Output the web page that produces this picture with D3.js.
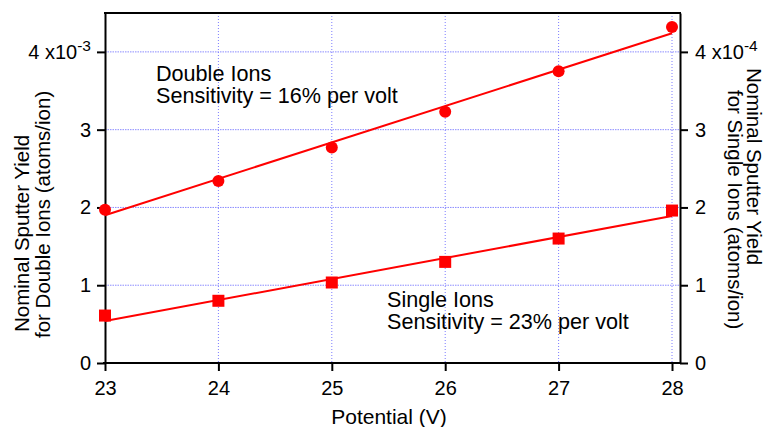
<!DOCTYPE html>
<meta charset="utf-8">
<title>Nominal Sputter Yield vs Potential</title>
<style>
  body { margin: 0; background: #fff; }
  text { font-family: "Liberation Sans", Arial, Helvetica, sans-serif; fill: #000; }
</style>
<body>
<script src="https://d3js.org/d3.v7.min.js"></script>
<script>

    // data
    var potential = [23, 24, 25, 26, 27, 28];
    var doubleYield = [1.97e-3, 2.34e-3, 2.77e-3, 3.23e-3, 3.75e-3, 4.32e-3];
    var singleYield = [0.61e-4, 0.80e-4, 1.035e-4, 1.30e-4, 1.60e-4, 1.96e-4];

    // fit lines, end points
    var fitPotential = [23, 28];
    var doubleFit = [1.90e-3, 4.24e-3];
    var singleFit = [0.54e-4, 1.89e-4];

    var xTicks = [23, 24, 25, 26, 27, 28];
    var leftTicks = [0, 1e-3, 2e-3, 3e-3, 4e-3];
    var rightTicks = [0, 1e-4, 2e-4, 3e-4, 4e-4];

    var width = 766,
        height = 427;

    var pLeft = 105, pRight = 680, pTop = 13, pBottom = 363;

    var x = d3.scaleLinear()
        .domain([23, 28.0705])
        .range([pLeft, pRight]);

    var yLeft = d3.scaleLinear()
        .domain([0, 4.5e-3])
        .range([pBottom, pTop]);

    var yRight = d3.scaleLinear()
        .domain([0, 4.5e-4])
        .range([pBottom, pTop]);

    var svg = d3.select("body").append("svg")
        .attr("width", width)
        .attr("height", height);

    // grid
    var grid = svg.append("g");
    grid.selectAll("line.h")
        .data(leftTicks.slice(1))
        .join("line")
        .attr("class", "h")
        .attr("x1", pLeft).attr("x2", pRight)
        .attr("y1", d => yLeft(d)).attr("y2", d => yLeft(d))
        .attr("stroke", "#8c8cff")
        .attr("stroke-width", 1)
        .attr("stroke-dasharray", "1.5,1");

    grid.selectAll("line.v")
        .data(xTicks.slice(1))
        .join("line")
        .attr("class", "v")
        .attr("x1", d => x(d)).attr("x2", d => x(d))
        .attr("y1", pTop).attr("y2", pBottom)
        .attr("stroke", "#7c7cff")
        .attr("stroke-width", 1)
        .attr("stroke-dasharray", "1,2");

    // frame top
    svg.append("line")
        .attr("x1", pLeft - 1).attr("x2", pRight + 1)
        .attr("y1", pTop).attr("y2", pTop)
        .attr("stroke", "#000").attr("stroke-width", 2);

    function styleAxis(g) {
        g.select(".domain").attr("stroke", "#000").attr("stroke-width", 2);
        g.selectAll(".tick line").attr("stroke", "#000").attr("stroke-width", 2);
        g.selectAll(".tick text")
            .style("font-family", '"Liberation Sans", Arial, sans-serif')
            .style("font-size", "20px")
            .attr("fill", "#000");
    }

    var xAxis = svg.append("g")
        .attr("transform", `translate(0,${pBottom})`)
        .call(d3.axisBottom(x).tickValues(xTicks).tickSize(8).tickPadding(10).tickSizeOuter(0).tickFormat(d3.format("d")));
    styleAxis(xAxis);
    xAxis.select(".domain").attr("d", `M${pLeft - 2},0H${pRight + 1}`);

    var yAxisL = svg.append("g")
        .attr("transform", `translate(${pLeft},0)`)
        .call(d3.axisLeft(yLeft).tickValues(leftTicks).tickSize(8).tickPadding(6).tickSizeOuter(0).tickFormat(""));
    styleAxis(yAxisL);

    var yAxisR = svg.append("g")
        .attr("transform", `translate(${pRight},0)`)
        .call(d3.axisRight(yRight).tickValues(rightTicks).tickSize(8).tickPadding(7).tickSizeOuter(0).tickFormat(""));
    styleAxis(yAxisR);

    // tick labels, x10^n only on the top one
    function tickLabels(g, ticks, exp) {
        g.selectAll(".tick text").each(function(d, i) {
            var t = d3.select(this);
            var v = Math.round(d / Math.pow(10, exp));
            if (i == ticks.length - 1) {
                t.text(v + " x10");
                t.append("tspan")
                    .attr("dy", "-0.5em")
                    .style("font-size", "15.5px")
                    .text(exp);
            } else {
                t.text(v);
            }
        });
    }
    tickLabels(yAxisL, leftTicks, -3);
    tickLabels(yAxisR, rightTicks, -4);

    // fit lines
    var lineL = d3.line().x((d, i) => x(fitPotential[i])).y(d => yLeft(d));
    var lineR = d3.line().x((d, i) => x(fitPotential[i])).y(d => yRight(d));

    svg.append("path")
        .datum(doubleFit)
        .attr("d", lineL)
        .attr("fill", "none")
        .attr("stroke", "#ff0000")
        .attr("stroke-width", 2);

    svg.append("path")
        .datum(singleFit)
        .attr("d", lineR)
        .attr("fill", "none")
        .attr("stroke", "#ff0000")
        .attr("stroke-width", 2);

    // markers
    svg.append("g").selectAll("circle")
        .data(doubleYield)
        .join("circle")
        .attr("cx", (d, i) => x(potential[i]))
        .attr("cy", d => yLeft(d))
        .attr("r", 6)
        .attr("fill", "#ff0000");

    var sq = 12;
    svg.append("g").selectAll("rect")
        .data(singleYield)
        .join("rect")
        .attr("x", (d, i) => x(potential[i]) - sq / 2)
        .attr("y", d => yRight(d) - sq / 2)
        .attr("width", sq)
        .attr("height", sq)
        .attr("fill", "#ff0000");

    // annotations
    var notes = svg.append("g").style("font-size", "21.6px");
    notes.append("text").attr("x", 156).attr("y", 81).text("Double Ions");
    notes.append("text").attr("x", 156).attr("y", 103).text("Sensitivity = 16% per volt");
    notes.append("text").attr("x", 387).attr("y", 307).text("Single Ions");
    notes.append("text").attr("x", 387).attr("y", 329).text("Sensitivity = 23% per volt");

    // axis titles
    svg.append("text")
        .attr("x", 389)
        .attr("y", 424)
        .attr("text-anchor", "middle")
        .style("font-size", "21px")
        .text("Potential (V)");

    var lt = svg.append("g")
        .attr("transform", "rotate(-90)")
        .style("font-size", "20.5px");
    lt.append("text").attr("x", -332).attr("y", 29).text("Nominal Sputter Yield");
    lt.append("text").attr("x", -338).attr("y", 50).text("for Double Ions (atoms/ion)");

    var rt = svg.append("g")
        .attr("transform", "translate(766,0) rotate(90)")
        .style("font-size", "20.5px");
    rt.append("text").attr("x", 68).attr("y", 19).text("Nominal Sputter Yield");
    rt.append("text").attr("x", 90).attr("y", 38).text("for Single Ions (atoms/ion)");

</script>
</body>
